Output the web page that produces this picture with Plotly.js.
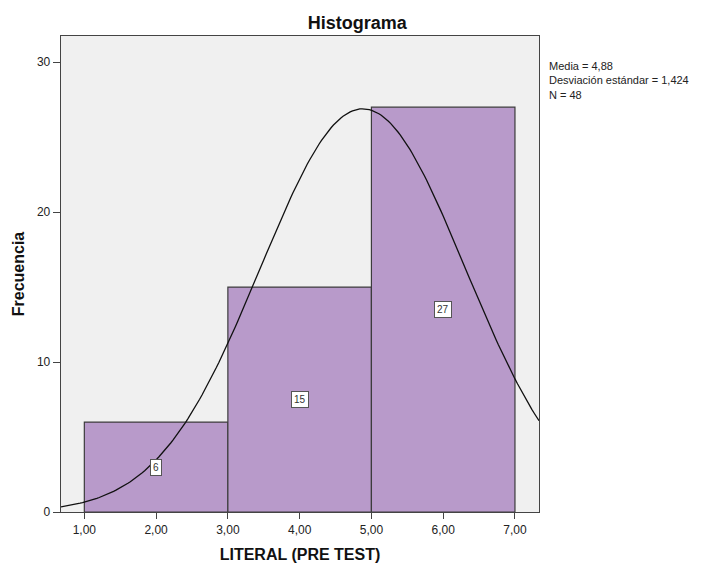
<!DOCTYPE html>
<html>
<head>
<meta charset="utf-8">
<script src="https://cdn.plot.ly/plotly-3.0.1.min.js"></script>
<style>html,body{margin:0;padding:0;background:#fff}#chart{width:709px;height:563px}</style>
</head>
<body>
<div id="chart"></div>
<script>
// Data
const binCenters = [2, 4, 6];
const binWidths = [2, 2, 2];
const frequencies = [6, 15, 27];
const freqLabels = ['6', '15', '27'];
const xTickVals = [1, 2, 3, 4, 5, 6, 7];
const meanValue = 4.88;
const sdValue = 1.424;
const nValue = 48;
const statLines = ['Media = 4,88', 'Desviación estándar = 1,424', 'N = 48'];

// Fitted normal curve scaled to counts (as drawn by SPSS)
const xMin = 0.675, xMax = 7.335;
const curveX = [], curveY = [];
for (let i = 0; i <= 200; i++) {
  const x = xMin + (xMax - xMin) * i / 200;
  const z = (x - meanValue) / sdValue;
  curveX.push(x);
  curveY.push(nValue * binWidths[0] * Math.exp(-0.5 * z * z) / (sdValue * Math.sqrt(2 * Math.PI)));
}

const frame = '#444444';
const font = 'Liberation Sans, Arial, sans-serif';

const traces = [
  {
    type: 'bar', x: binCenters, y: frequencies, width: binWidths,
    marker: {color: '#b89aca', line: {color: '#3c3c3c', width: 1.2}},
    hoverinfo: 'x+y', showlegend: false
  },
  {
    type: 'scatter', mode: 'lines', x: curveX, y: curveY,
    line: {color: '#111111', width: 1.3}, hoverinfo: 'skip', showlegend: false
  }
];

const annotations = binCenters.map((c, i) => ({
  x: c, y: frequencies[i] / 2, xref: 'x', yref: 'y', text: freqLabels[i],
  showarrow: false, bgcolor: '#ffffff', bordercolor: '#555555', borderwidth: 1, borderpad: 2,
  font: {family: font, size: 10, color: '#333'}
}));
annotations.push({
  x: 1.016, xref: 'paper', xanchor: 'left',
  y: (512 - 80) / 476, yref: 'paper', yanchor: 'middle', align: 'left',
  text: statLines.join('<br>'), showarrow: false,
  font: {family: font, size: 11, color: '#222'}
});

const layout = {
  width: 709, height: 563,
  margin: {l: 61, r: 170, t: 36, b: 51, pad: 0},
  paper_bgcolor: '#ffffff', plot_bgcolor: '#f0f0f0',
  separators: ',.',
  bargap: 0,
  font: {family: font, color: '#222'},
  title: {text: 'Histograma', x: 0.504, xanchor: 'center', y: 0.959, yanchor: 'middle',
          font: {family: font, size: 18, color: '#111', weight: 'bold'}},
  xaxis: {
    range: [xMin, xMax], tickvals: xTickVals, tickformat: '.2f',
    ticks: 'outside', ticklen: 6, tickcolor: frame, tickwidth: 1,
    showline: true, mirror: true, linecolor: frame, linewidth: 1.3,
    showgrid: false, zeroline: false,
    tickfont: {family: font, size: 12, color: '#222'},
    title: {text: 'LITERAL (PRE TEST)', standoff: 14, font: {family: font, size: 16, color: '#111', weight: 'bold'}}
  },
  yaxis: {
    range: [0, 31.75], tickvals: [0, 10, 20, 30],
    ticks: 'outside', ticklen: 7, tickcolor: frame, tickwidth: 1,
    showline: true, mirror: true, linecolor: frame, linewidth: 1.3,
    showgrid: false, zeroline: false,
    tickfont: {family: font, size: 12, color: '#222'},
    title: {text: 'Frecuencia', standoff: 8, font: {family: font, size: 16, color: '#111', weight: 'bold'}}
  },
  annotations: annotations
};

Plotly.newPlot('chart', traces, layout, {displayModeBar: false, staticPlot: true});
</script>
</body>
</html>
